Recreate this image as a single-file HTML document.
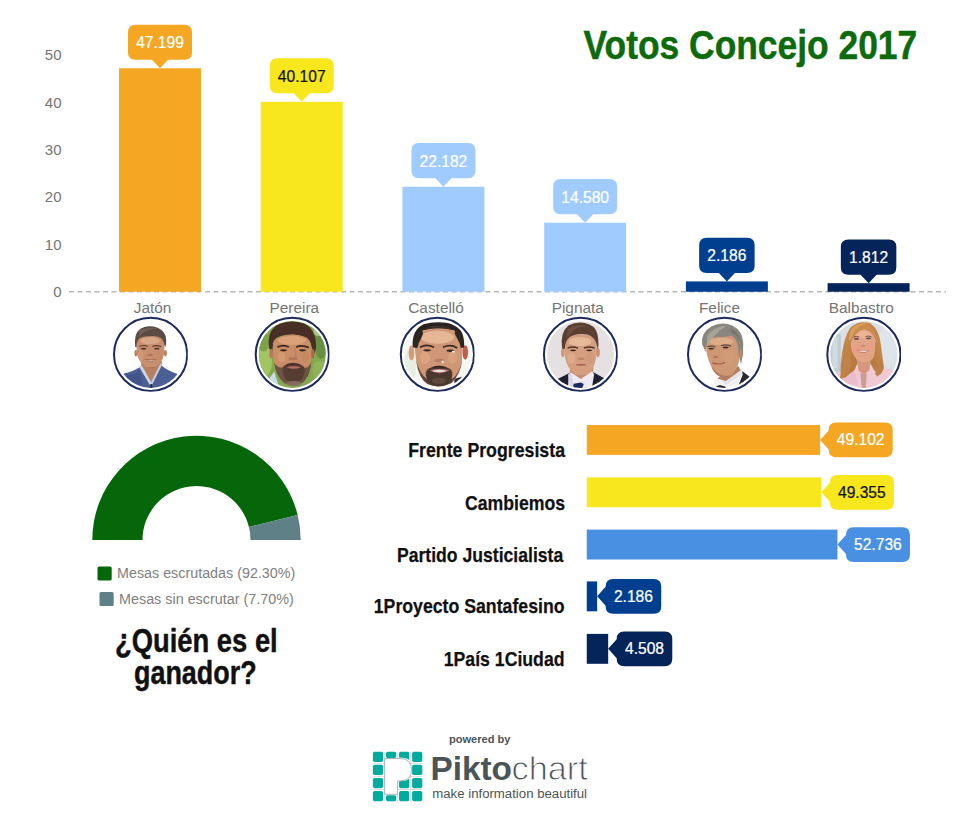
<!DOCTYPE html>
<html lang="es">
<head>
<meta charset="utf-8">
<title>Votos Concejo 2017</title>
<style>
html,body{margin:0;padding:0;background:#fff;}
body{width:960px;height:816px;overflow:hidden;font-family:"Liberation Sans",sans-serif;}
svg{display:block;}
text{font-family:"Liberation Sans",sans-serif;}
.ax{font-size:15px;fill:#747474;}
.lb{font-size:15.6px;text-anchor:middle;stroke-width:0.22px;}
.hd{font-weight:bold;fill:#111;stroke:#111;stroke-width:0.45px;}
</style>
</head>
<body>
<svg width="960" height="816" viewBox="0 0 960 816">
<rect width="960" height="816" fill="#fff"/>
<text x="583.6" y="58.7" font-size="41.5" font-weight="bold" fill="#0d6b0d" stroke="#0d6b0d" stroke-width="0.5" textLength="333.6" lengthAdjust="spacingAndGlyphs">Votos Concejo 2017</text>
<g class="ax" text-anchor="end">
<text x="61.5" y="60.2">50</text>
<text x="61.5" y="107.5">40</text>
<text x="61.5" y="154.9">30</text>
<text x="61.5" y="202.2">20</text>
<text x="61.5" y="249.6">10</text>
<text x="61.5" y="296.9">0</text>
</g>
<line x1="69" y1="291.75" x2="946" y2="291.75" stroke="#b8b8b8" stroke-width="1.4" stroke-dasharray="5,3.5"/>
<rect x="119.00" y="68.26" width="82" height="223.49" fill="#f5a623"/>
<path fill="#f5a623" d="M135.50,24.66 H184.50 Q192.00,24.66 192.00,32.16 V52.26 Q192.00,59.76 184.50,59.76 H168.00 L160.00,68.26 L152.00,59.76 H135.50 Q128.00,59.76 128.00,52.26 V32.16 Q128.00,24.66 135.50,24.66 Z"/>
<text class="lb" x="160.00" y="48.31" fill="#fff" stroke="#fff">47.199</text>
<text class="lb" x="152.60" y="312.5" fill="#747474" style="font-size:15.4px">Jatón</text>
<rect x="260.72" y="101.84" width="82" height="189.91" fill="#f8e71c"/>
<path fill="#f8e71c" d="M277.22,58.24 H326.22 Q333.72,58.24 333.72,65.74 V85.84 Q333.72,93.34 326.22,93.34 H309.72 L301.72,101.84 L293.72,93.34 H277.22 Q269.72,93.34 269.72,85.84 V65.74 Q269.72,58.24 277.22,58.24 Z"/>
<text class="lb" x="301.72" y="81.89" fill="#111" stroke="#111">40.107</text>
<text class="lb" x="294.32" y="312.5" fill="#747474" style="font-size:15.4px">Pereira</text>
<rect x="402.44" y="186.72" width="82" height="105.03" fill="#9fcbff"/>
<path fill="#9fcbff" d="M418.94,143.12 H467.94 Q475.44,143.12 475.44,150.62 V170.72 Q475.44,178.22 467.94,178.22 H451.44 L443.44,186.72 L435.44,178.22 H418.94 Q411.44,178.22 411.44,170.72 V150.62 Q411.44,143.12 418.94,143.12 Z"/>
<text class="lb" x="443.44" y="166.77" fill="#fff" stroke="#fff">22.182</text>
<text class="lb" x="436.04" y="312.5" fill="#747474" style="font-size:15.4px">Castelló</text>
<rect x="544.16" y="222.71" width="82" height="69.04" fill="#9fcbff"/>
<path fill="#9fcbff" d="M560.66,179.11 H609.66 Q617.16,179.11 617.16,186.61 V206.71 Q617.16,214.21 609.66,214.21 H593.16 L585.16,222.71 L577.16,214.21 H560.66 Q553.16,214.21 553.16,206.71 V186.61 Q553.16,179.11 560.66,179.11 Z"/>
<text class="lb" x="585.16" y="202.76" fill="#fff" stroke="#fff">14.580</text>
<text class="lb" x="577.76" y="312.5" fill="#747474" style="font-size:15.4px">Pignata</text>
<rect x="685.88" y="281.40" width="82" height="10.35" fill="#003f8f"/>
<path fill="#003f8f" d="M706.63,237.80 H747.13 Q754.63,237.80 754.63,245.30 V265.40 Q754.63,272.90 747.13,272.90 H734.88 L726.88,281.40 L718.88,272.90 H706.63 Q699.13,272.90 699.13,265.40 V245.30 Q699.13,237.80 706.63,237.80 Z"/>
<text class="lb" x="726.88" y="261.45" fill="#fff" stroke="#fff">2.186</text>
<text class="lb" x="719.48" y="312.5" fill="#747474" style="font-size:15.4px">Felice</text>
<rect x="827.60" y="283.17" width="82" height="8.58" fill="#05245a"/>
<path fill="#05245a" d="M848.35,239.57 H888.85 Q896.35,239.57 896.35,247.07 V267.17 Q896.35,274.67 888.85,274.67 H876.60 L868.60,283.17 L860.60,274.67 H848.35 Q840.85,274.67 840.85,267.17 V247.07 Q840.85,239.57 848.35,239.57 Z"/>
<text class="lb" x="868.60" y="263.22" fill="#fff" stroke="#fff">1.812</text>
<text class="lb" x="861.20" y="312.5" fill="#747474" style="font-size:15.4px">Balbastro</text>
<defs>
<filter id="bl" x="-20%" y="-20%" width="140%" height="140%"><feGaussianBlur stdDeviation="0.7"/></filter>
<filter id="bl2" x="-20%" y="-20%" width="140%" height="140%"><feGaussianBlur stdDeviation="2.2"/></filter>
<clipPath id="cp0"><circle cx="150.6" cy="354.4" r="33.5"/></clipPath>
<clipPath id="rc0"><rect x="110.6" y="314.4" width="77.2" height="77.3"/></clipPath>
<clipPath id="cp1"><circle cx="292.3" cy="354.4" r="33.5"/></clipPath>
<clipPath id="rc1"><rect x="252.3" y="314.4" width="77.2" height="77.3"/></clipPath>
<clipPath id="cp2"><circle cx="437.4" cy="354.4" r="33.5"/></clipPath>
<clipPath id="rc2"><rect x="397.4" y="314.4" width="77.2" height="77.3"/></clipPath>
<clipPath id="cp3"><circle cx="580.5" cy="354.4" r="33.5"/></clipPath>
<clipPath id="rc3"><rect x="540.5" y="314.4" width="77.2" height="77.3"/></clipPath>
<clipPath id="cp4"><circle cx="724.6" cy="354.4" r="33.5"/></clipPath>
<clipPath id="rc4"><rect x="684.6" y="314.4" width="77.2" height="77.3"/></clipPath>
<clipPath id="cp5"><circle cx="863.9" cy="354.4" r="33.5"/></clipPath>
<clipPath id="rc5"><rect x="823.9" y="314.4" width="77.2" height="77.3"/></clipPath>
</defs>
<circle cx="150.6" cy="354.4" r="36.6" fill="#fff" stroke="#1c2a5c" stroke-width="2" clip-path="url(#rc0)"/>
<g clip-path="url(#cp0)"><rect x="116.6" y="320.4" width="68" height="68" fill="#ffffff"/><g filter="url(#bl)"><g transform="translate(105,312) scale(0.104167)">

<path d="M175,592 Q290,565 345,520 L540,510 Q595,560 702,597 L690,650 Q600,725 440,732 Q280,725 185,650 Z" fill="#4b5f95"/>
<path d="M200,610 Q300,600 330,560 L360,700 L250,690 Z" fill="#43558a"/>
<path d="M350,470 L545,470 L545,520 L445,690 L345,525 Z" fill="#b57f61"/>
<path d="M330,530 L352,512 L452,688 L432,704 Z" fill="#ced6e8"/>
<path d="M548,505 L530,497 L436,686 L452,700 Z" fill="#c3cce0"/>
<path d="M436,690 L452,690 L456,732 L436,732 Z" fill="#23283a"/>
<ellipse cx="296" cy="395" rx="14" ry="30" fill="#b9805f"/>
<ellipse cx="580" cy="395" rx="14" ry="30" fill="#b9805f"/>
<path d="M300,300 Q300,235 350,218 L520,215 Q575,232 573,300 L566,405 Q555,470 500,520 Q440,558 385,522 Q322,470 308,405 Z" fill="#c88f6e"/>
<ellipse cx="432" cy="275" rx="95" ry="34" fill="#dcab8b" opacity=".85"/>
<ellipse cx="345" cy="420" rx="26" ry="48" fill="#d39c7c" opacity=".7"/>
<ellipse cx="525" cy="420" rx="26" ry="48" fill="#c58a69" opacity=".7"/>
<path d="M290,335 Q275,205 340,160 Q420,118 505,150 Q582,182 587,262 Q592,312 578,340 Q568,285 542,252 Q485,222 425,232 Q352,232 322,262 Q300,292 302,340 Z" fill="#5c4b43"/>
<path d="M330,180 Q420,135 500,160 Q440,160 380,190 Q340,215 320,250 Z" fill="#77655b" opacity=".8"/>
<path d="M330,332 Q370,312 410,332" stroke="#5a3c30" stroke-width="11" fill="none"/>
<path d="M455,332 Q495,312 540,334" stroke="#5a3c30" stroke-width="11" fill="none"/>
<ellipse cx="370" cy="352" rx="25" ry="8" fill="#4a322a"/>
<ellipse cx="498" cy="352" rx="25" ry="8" fill="#4a322a"/>
<ellipse cx="432" cy="412" rx="30" ry="11" fill="#a46c55" opacity=".75"/>
<path d="M380,452 Q440,498 502,452 Q440,466 380,452 Z" fill="#8c4c40"/>
<path d="M396,458 Q440,482 488,458 Q440,468 396,458 Z" fill="#eadcd2"/>
<path d="M385,522 Q440,558 500,520 Q440,540 385,522 Z" fill="#a9745a"/>
</g></g></g>
<circle cx="292.3" cy="354.4" r="36.6" fill="#fff" stroke="#1c2a5c" stroke-width="2" clip-path="url(#rc1)"/>
<g clip-path="url(#cp1)"><rect x="258.3" y="320.4" width="68" height="68" fill="#84a84d"/><g filter="url(#bl)"><g transform="translate(247,312) scale(0.104167)">

<ellipse cx="170" cy="470" rx="70" ry="150" fill="#a3c463"/>
<ellipse cx="160" cy="290" rx="60" ry="90" fill="#7da24a"/>
<ellipse cx="710" cy="300" rx="60" ry="150" fill="#668f40"/>
<ellipse cx="700" cy="560" rx="70" ry="90" fill="#8fb45a"/>
<ellipse cx="690" cy="180" rx="50" ry="50" fill="#a9c98a"/>
<path d="M205,650 L262,572 L300,690 L345,735 L230,720 Z" fill="#c9dbee"/>
<path d="M262,572 L300,690 L280,640 Z" fill="#8fa6c4"/>
<path d="M545,700 L625,668 L600,715 Z" fill="#8d8fa3"/>
<path d="M212,340 Q190,200 280,130 Q400,66 545,108 Q655,160 662,300 Q668,365 640,410 L612,300 Q562,222 440,215 Q320,215 270,262 Q242,300 242,410 Z" fill="#482f25"/>
<ellipse cx="232" cy="400" rx="18" ry="45" fill="#b57c5a"/>
<ellipse cx="632" cy="400" rx="16" ry="45" fill="#a56c4c"/>
<path d="M250,300 Q262,226 440,215 Q600,226 610,300 L616,425 Q610,560 542,652 Q450,724 358,662 Q270,580 250,440 Z" fill="#c98d67"/>
<ellipse cx="430" cy="272" rx="135" ry="42" fill="#dea67e" opacity=".85"/>
<ellipse cx="330" cy="430" rx="40" ry="50" fill="#d69c74" opacity=".8"/>
<ellipse cx="560" cy="430" rx="36" ry="50" fill="#c38862" opacity=".8"/>
<path d="M260,488 Q280,622 358,684 Q450,730 542,674 Q608,612 618,478 Q592,542 548,537 Q500,492 440,490 Q385,492 345,532 Q296,542 260,488 Z" fill="#6d5245"/>
<path d="M345,527 Q440,462 550,527 Q562,602 522,652 Q450,692 380,652 Q333,602 345,527 Z" fill="#523b31" opacity=".92"/>
<ellipse cx="450" cy="688" rx="75" ry="26" fill="#8d7466" opacity=".75"/>
<path d="M340,522 Q440,454 552,522 Q500,502 445,507 Q390,502 340,522 Z" fill="#45302a"/>
<path d="M378,530 Q445,512 520,530 Q448,560 378,530 Z" fill="#bb6b62"/>
<path d="M292,338 Q345,308 402,336" stroke="#3b251d" stroke-width="17" fill="none"/>
<path d="M472,336 Q532,310 592,342" stroke="#3b251d" stroke-width="17" fill="none"/>
<ellipse cx="350" cy="368" rx="32" ry="10" fill="#3a2921"/>
<ellipse cx="532" cy="368" rx="32" ry="10" fill="#3a2921"/>
<ellipse cx="442" cy="448" rx="44" ry="14" fill="#a66d52" opacity=".75"/>
<path d="M470,350 Q485,420 470,452 Q450,420 455,350 Z" fill="#b67c5b" opacity=".6"/>
</g></g></g>
<circle cx="437.4" cy="354.4" r="36.6" fill="#fff" stroke="#1c2a5c" stroke-width="2" clip-path="url(#rc2)"/>
<g clip-path="url(#cp2)"><rect x="403.4" y="320.4" width="68" height="68" fill="#f6f6f3"/><g filter="url(#bl)"><g transform="translate(389,312) scale(0.104167)">

<ellipse cx="200" cy="520" rx="60" ry="160" fill="#e6ede2"/>
<path d="M630,640 L700,622 L690,662 L625,690 Z" fill="#2b2b45"/>
<path d="M228,335 Q215,178 330,118 Q470,78 625,118 Q725,168 722,335 L692,335 Q682,232 642,192 Q560,150 470,160 Q370,150 310,202 Q270,242 262,335 Z" fill="#2a2320"/>
<ellipse cx="216" cy="392" rx="27" ry="72" fill="#d49b79"/>
<ellipse cx="732" cy="388" rx="27" ry="70" fill="#bf5f48"/>
<path d="M245,330 Q250,205 330,172 Q470,140 620,172 Q700,212 705,330 L700,482 Q680,602 600,682 Q480,742 370,692 Q280,622 262,482 Z" fill="#cf9774"/>
<ellipse cx="465" cy="242" rx="160" ry="62" fill="#e7ba98" opacity=".9"/>
<ellipse cx="345" cy="440" rx="50" ry="60" fill="#dca882" opacity=".75"/>
<ellipse cx="610" cy="440" rx="45" ry="60" fill="#dca882" opacity=".6"/>
<path d="M330,172 Q470,140 620,172 Q560,130 470,130 Q390,128 330,172 Z" fill="#3a2e28"/>
<path d="M232,340 Q222,228 305,160 Q345,190 308,255 Q280,300 272,345 Z" fill="#2d2521"/>
<path d="M720,340 Q726,228 648,160 Q612,190 655,255 Q684,300 690,345 Z" fill="#2d2521"/>
<path d="M262,470 Q288,642 370,692 Q480,742 600,682 Q682,600 700,470 Q672,600 604,645 L600,560 Q480,486 360,562 L366,645 Q298,602 262,470 Z" fill="#5a4439"/>
<path d="M352,575 Q480,480 608,575 Q612,650 560,690 Q480,725 400,690 Q350,650 352,575 Z" fill="#48362d" opacity=".9"/>
<ellipse cx="480" cy="660" rx="70" ry="28" fill="#6a5245" opacity=".7"/>
<path d="M352,562 Q480,468 608,562 Q540,528 480,530 Q420,528 352,562 Z" fill="#31241e"/>
<path d="M392,560 Q480,536 582,560 Q482,614 392,560 Z" fill="#c7808a"/>
<ellipse cx="482" cy="566" rx="62" ry="11" fill="#eadfd8"/>
<path d="M298,338 Q362,304 432,338" stroke="#3a2a22" stroke-width="17" fill="none"/>
<path d="M518,338 Q592,306 655,345" stroke="#3a2a22" stroke-width="17" fill="none"/>
<ellipse cx="366" cy="368" rx="36" ry="11" fill="#3c2c26"/>
<ellipse cx="588" cy="372" rx="36" ry="11" fill="#3c2c26"/>
<ellipse cx="482" cy="465" rx="48" ry="16" fill="#ad7560" opacity=".75"/>
<ellipse cx="618" cy="382" rx="14" ry="9" fill="#f5efe8"/>
<ellipse cx="515" cy="478" rx="12" ry="12" fill="#f3e6dc"/>
</g></g></g>
<circle cx="580.5" cy="354.4" r="36.6" fill="#fff" stroke="#1c2a5c" stroke-width="2" clip-path="url(#rc3)"/>
<g clip-path="url(#cp3)"><rect x="546.5" y="320.4" width="68" height="68" fill="#e5e1e3"/><g filter="url(#bl)"><g transform="translate(535,312) scale(0.104167)">

<path d="M212,645 L332,585 L560,578 L668,638 Q600,725 440,735 Q290,728 212,645 Z" fill="#1e2133"/>
<path d="M340,478 L562,478 L557,592 L440,652 L333,592 Z" fill="#c88e6f"/>
<path d="M322,602 L345,580 L440,642 L548,568 L568,598 L548,718 L440,735 L318,712 Z" fill="#efeaf2"/>
<path d="M358,692 L440,676 L468,692 L452,735 L378,735 Z" fill="#1d2c62"/>
<path d="M318,600 L345,580 L372,700 L335,715 Z" fill="#ddd6e2"/>
<ellipse cx="268" cy="388" rx="18" ry="46" fill="#d09878"/>
<ellipse cx="604" cy="388" rx="18" ry="46" fill="#c98f70"/>
<path d="M280,330 Q285,242 340,226 Q440,202 540,226 Q596,246 592,330 L586,442 Q570,542 500,602 Q440,632 385,602 Q310,542 290,442 Z" fill="#d59f7f"/>
<ellipse cx="432" cy="285" rx="110" ry="42" fill="#e8bb9b" opacity=".9"/>
<ellipse cx="350" cy="440" rx="36" ry="55" fill="#dfae8e" opacity=".7"/>
<ellipse cx="530" cy="440" rx="36" ry="55" fill="#cf9676" opacity=".7"/>
<path d="M260,350 Q238,200 320,130 Q420,78 522,120 Q602,152 607,262 Q614,322 602,356 L586,292 Q560,232 500,216 Q400,202 330,242 Q290,272 286,356 Z" fill="#5a3f30"/>
<path d="M320,160 Q420,100 520,140 Q440,130 380,170 Q330,205 300,260 Z" fill="#72513e" opacity=".8"/>
<path d="M313,347 Q360,324 412,347" stroke="#4a3226" stroke-width="14" fill="none"/>
<path d="M470,347 Q522,324 572,347" stroke="#4a3226" stroke-width="14" fill="none"/>
<ellipse cx="365" cy="368" rx="28" ry="9" fill="#3a2a22"/>
<ellipse cx="520" cy="368" rx="28" ry="9" fill="#3a2a22"/>
<ellipse cx="442" cy="448" rx="33" ry="12" fill="#b27e62" opacity=".75"/>
<ellipse cx="442" cy="506" rx="50" ry="9" fill="#ae665c"/>
<path d="M385,602 Q440,632 500,602 Q440,618 385,602 Z" fill="#b8846a"/>
</g></g></g>
<circle cx="724.6" cy="354.4" r="36.6" fill="#fff" stroke="#1c2a5c" stroke-width="2" clip-path="url(#rc4)"/>
<g clip-path="url(#cp4)"><rect x="690.6" y="320.4" width="68" height="68" fill="#ffffff"/><g filter="url(#bl)"><g transform="translate(680,312) scale(0.104167)">

<path d="M592,565 L672,625 L562,708 L545,692 Z" fill="#2b2b2d"/>
<path d="M330,640 L400,662 L592,545 L602,602 L562,702 L440,732 L328,722 Z" fill="#f2f2f2"/>
<path d="M400,662 L592,545 L585,600 L440,700 Z" fill="#e4e4e6"/>
<path d="M345,716 L382,700 L432,716 L442,735 L350,735 Z" fill="#2a2a2c"/>
<path d="M400,600 L562,520 L582,560 L440,662 L360,640 Z" fill="#b57d5e"/>
<path d="M248,330 Q246,200 380,200 Q560,195 570,300 Q582,350 574,422 Q570,522 500,602 Q440,652 390,622 Q330,600 300,522 Q250,422 250,330 Z" fill="#cf9874"/>
<ellipse cx="400" cy="285" rx="115" ry="36" fill="#e0b08c" opacity=".85"/>
<path d="M212,310 Q198,200 300,140 Q400,88 502,130 Q602,180 607,300 Q612,400 586,505 L562,400 Q562,275 500,228 Q440,242 380,238 Q300,242 268,272 Q248,310 248,385 Z" fill="#8a867e"/>
<path d="M260,230 Q330,140 450,130 Q380,170 330,230 Q290,280 262,330 Z" fill="#aeaaa2" opacity=".8"/>
<path d="M480,150 Q570,200 590,300 Q560,230 500,200 Z" fill="#6f6b65" opacity=".8"/>
<ellipse cx="470" cy="440" rx="50" ry="70" fill="#d39c7a" opacity=".7"/>
<ellipse cx="585" cy="400" rx="16" ry="42" fill="#c08565"/>
<path d="M262,335 Q300,318 340,335" stroke="#5a4a44" stroke-width="12" fill="none"/>
<path d="M392,322 Q440,305 490,328" stroke="#5a4a44" stroke-width="12" fill="none"/>
<ellipse cx="300" cy="352" rx="27" ry="9" fill="#3e302c"/>
<ellipse cx="438" cy="340" rx="30" ry="10" fill="#3e302c"/>
<ellipse cx="342" cy="432" rx="28" ry="11" fill="#a86f58" opacity=".75"/>
<path d="M310,488 Q370,512 432,484" stroke="#a0564e" stroke-width="11" fill="none"/>
<path d="M300,522 Q330,600 390,622 Q440,652 500,602 Q440,625 390,600 Q340,580 300,522 Z" fill="#b07a5e"/>
</g></g></g>
<circle cx="863.9" cy="354.4" r="36.6" fill="#fff" stroke="#1c2a5c" stroke-width="2" clip-path="url(#rc5)"/>
<g clip-path="url(#cp5)"><rect x="829.9" y="320.4" width="68" height="68" fill="#d9e0e6"/><g filter="url(#bl)"><g transform="translate(820,312) scale(0.104167)">

<rect x="95" y="210" width="105" height="370" fill="#bfccd4"/>
<rect x="120" y="240" width="50" height="300" fill="#d4dde2" opacity=".8"/>
<ellipse cx="650" cy="330" rx="90" ry="190" fill="#dde4ea"/>
<path d="M148,592 Q280,542 340,520 L420,602 L500,512 Q620,540 708,562 Q650,705 420,735 Q230,715 148,592 Z" fill="#f1c9d5"/>
<path d="M200,640 Q300,600 330,560 L370,700 L260,690 Z" fill="#eab9c8" opacity=".8"/>
<path d="M212,400 Q228,250 290,150 Q380,78 482,108 Q562,160 582,300 Q602,450 612,522 Q602,602 540,622 Q562,500 540,400 L300,400 Q290,520 250,625 Q200,640 190,640 Q232,500 212,400 Z" fill="#c58749"/>
<path d="M300,380 L540,380 Q600,480 585,600 L520,560 L470,470 L370,470 L330,560 L235,630 Q250,480 300,380 Z" fill="#b87a40"/>
<path d="M350,450 L492,450 L472,562 L420,602 L370,562 Z" fill="#d7977b"/>
<path d="M388,590 L450,590 L440,730 L400,730 Z" fill="#c9a090"/>
<path d="M294,282 Q305,168 412,148 Q506,160 538,282 Q548,388 505,450 Q430,512 355,458 Q294,396 294,282 Z" fill="#e2a486"/>
<ellipse cx="415" cy="215" rx="80" ry="35" fill="#eeb698" opacity=".85"/>
<ellipse cx="350" cy="340" rx="30" ry="36" fill="#ea9e88" opacity=".75"/>
<ellipse cx="482" cy="335" rx="30" ry="36" fill="#ea9e88" opacity=".75"/>
<path d="M288,310 Q298,130 420,108 Q522,120 562,310 Q522,205 432,162 Q340,182 288,310 Z" fill="#cb8d4f"/>
<path d="M300,160 Q380,90 480,110 Q400,110 340,170 Q300,230 280,320 Q270,240 300,160 Z" fill="#dba463" opacity=".8"/>
<path d="M212,400 Q190,520 198,642 Q262,622 300,522 Q290,450 302,380 Q292,300 300,260 Q240,300 212,400 Z" fill="#c18345"/>
<path d="M540,380 Q602,450 612,542 Q582,612 530,602 Q546,500 522,420 Q535,330 528,280 Q560,320 540,380 Z" fill="#bd7f43"/>
<path d="M322,240 Q350,228 378,240" stroke="#6a4a3a" stroke-width="9" fill="none"/>
<path d="M438,236 Q466,224 494,238" stroke="#6a4a3a" stroke-width="9" fill="none"/>
<ellipse cx="350" cy="258" rx="25" ry="9" fill="#5b4a52"/>
<ellipse cx="466" cy="253" rx="25" ry="9" fill="#5b4a52"/>
<ellipse cx="412" cy="325" rx="26" ry="10" fill="#c98068" opacity=".7"/>
<path d="M350,368 Q415,420 480,365 Q415,385 350,368 Z" fill="#b85c56"/>
<path d="M360,372 Q415,402 472,370 Q415,384 360,372 Z" fill="#f6efe8"/>
</g></g></g>
<path fill="#05670a" d="M92.30,540.00 A104.2,104.2 0 0 1 297.67,515.04 L248.93,527.06 A54.0,54.0 0 0 0 142.50,540.00 Z"/>
<path fill="#5f8086" d="M297.67,515.04 A104.2,104.2 0 0 1 300.70,540.00 L250.50,540.00 A54.0,54.0 0 0 0 248.93,527.06 Z"/>
<rect x="97.5" y="566.6" width="14.2" height="14" rx="1.5" fill="#05670a"/>
<text x="117" y="578.2" font-size="14" fill="#808080" textLength="178.3" lengthAdjust="spacingAndGlyphs">Mesas escrutadas (92.30%)</text>
<rect x="99.5" y="591.9" width="14.2" height="14" rx="1.5" fill="#5f8086"/>
<text x="119" y="603.5" font-size="14" fill="#808080" textLength="174.8" lengthAdjust="spacingAndGlyphs">Mesas sin escrutar (7.70%)</text>
<text class="hd" font-size="32.5"><tspan x="115.1" y="651.5" textLength="162.6" lengthAdjust="spacingAndGlyphs">¿Quién es el</tspan> <tspan x="134.0" y="683.8" textLength="122.6" lengthAdjust="spacingAndGlyphs">ganador?</tspan></text>
<rect x="586.75" y="425.0" width="233.43" height="29.9" fill="#f5a623"/>
<path fill="#f5a623" d="M836.18,422.60 H885.18 Q892.68,422.60 892.68,430.10 V449.80 Q892.68,457.30 885.18,457.30 H836.18 Q828.68,457.30 828.68,449.80 V449.45 L820.18,439.95 L828.68,430.45 V430.10 Q828.68,422.60 836.18,422.60 Z"/>
<text class="lb" x="860.68" y="445.45" fill="#fff" stroke="#fff">49.102</text>
<text class="hd" x="408.25" y="457.0" font-size="20.8" style="stroke-width:0.25px" textLength="156.75" lengthAdjust="spacingAndGlyphs">Frente Progresista</text>
<rect x="586.75" y="477.4" width="234.63" height="29.9" fill="#f8e71c"/>
<path fill="#f8e71c" d="M837.38,475.00 H886.38 Q893.88,475.00 893.88,482.50 V502.20 Q893.88,509.70 886.38,509.70 H837.38 Q829.88,509.70 829.88,502.20 V501.85 L821.38,492.35 L829.88,482.85 V482.50 Q829.88,475.00 837.38,475.00 Z"/>
<text class="lb" x="861.88" y="497.85" fill="#111" stroke="#111">49.355</text>
<text class="hd" x="465.0" y="510.0" font-size="20.8" style="stroke-width:0.25px" textLength="100.00" lengthAdjust="spacingAndGlyphs">Cambiemos</text>
<rect x="586.75" y="529.6" width="250.71" height="29.9" fill="#4a90e2"/>
<path fill="#4a90e2" d="M853.46,527.20 H902.46 Q909.96,527.20 909.96,534.70 V554.40 Q909.96,561.90 902.46,561.90 H853.46 Q845.96,561.90 845.96,554.40 V554.05 L837.46,544.55 L845.96,535.05 V534.70 Q845.96,527.20 853.46,527.20 Z"/>
<text class="lb" x="877.96" y="550.05" fill="#fff" stroke="#fff">52.736</text>
<text class="hd" x="397.0" y="562.0" font-size="20.8" style="stroke-width:0.25px" textLength="166.20" lengthAdjust="spacingAndGlyphs">Partido Justicialista</text>
<rect x="586.75" y="581.4" width="10.39" height="29.9" fill="#003f8f"/>
<path fill="#003f8f" d="M613.14,579.00 H653.74 Q661.24,579.00 661.24,586.50 V606.20 Q661.24,613.70 653.74,613.70 H613.14 Q605.64,613.70 605.64,606.20 V605.85 L597.14,596.35 L605.64,586.85 V586.50 Q605.64,579.00 613.14,579.00 Z"/>
<text class="lb" x="633.44" y="601.85" fill="#fff" stroke="#fff">2.186</text>
<text class="hd" x="373.75" y="613.2" font-size="20.8" style="stroke-width:0.25px" textLength="190.75" lengthAdjust="spacingAndGlyphs">1Proyecto Santafesino</text>
<rect x="586.75" y="633.9" width="21.43" height="29.9" fill="#05245a"/>
<path fill="#05245a" d="M624.18,631.50 H664.78 Q672.28,631.50 672.28,639.00 V658.70 Q672.28,666.20 664.78,666.20 H624.18 Q616.68,666.20 616.68,658.70 V658.35 L608.18,648.85 L616.68,639.35 V639.00 Q616.68,631.50 624.18,631.50 Z"/>
<text class="lb" x="644.48" y="654.35" fill="#fff" stroke="#fff">4.508</text>
<text class="hd" x="443.75" y="666.2" font-size="20.8" style="stroke-width:0.25px" textLength="120.75" lengthAdjust="spacingAndGlyphs">1País 1Ciudad</text>
<text x="448.9" y="743.2" font-size="11.5" font-weight="bold" fill="#4b5457" textLength="61.6" lengthAdjust="spacingAndGlyphs">powered by</text>
<g fill="#02ab9d">
<rect x="372.90" y="751.80" width="10.2" height="10.2" rx="1.8"/><rect x="385.97" y="751.80" width="10.2" height="6.1" rx="1.6"/><path d="M400.64,751.80 H407.64 Q409.24,751.80 409.24,753.40 V760.00 Q407.04,757.40 399.04,757.40 V753.40 Q399.04,751.80 400.64,751.80 Z"/><rect x="412.11" y="751.80" width="10.2" height="10.2" rx="1.8"/>
<rect x="372.90" y="764.87" width="10.2" height="10.2" rx="1.8"/><rect x="412.11" y="764.87" width="10.2" height="10.2" rx="1.8"/>
<rect x="372.90" y="777.94" width="10.2" height="10.2" rx="1.8"/><path d="M399.04,781.14 Q407.04,781.14 409.24,778.54 V786.54 Q409.24,788.14 407.64,788.14 H400.64 Q399.04,788.14 399.04,786.54 Z"/><rect x="412.11" y="777.94" width="10.2" height="10.2" rx="1.8"/>
<rect x="372.90" y="791.01" width="10.2" height="10.2" rx="1.8"/><rect x="385.97" y="795.21" width="10.2" height="6" rx="1.6"/><rect x="399.04" y="791.01" width="10.2" height="10.2" rx="1.8"/><rect x="412.11" y="791.01" width="10.2" height="10.2" rx="1.8"/>
</g>
<g stroke="#d0d5d7" stroke-width="0.8"><path d="M384.4,751.8V801.6M397.5,751.8V801.6M410.5,751.8V801.6M372.9,763.3H422.3M372.9,776.4H422.3M372.9,789.5H422.3"/></g>
<path d="M384.7,758.5 H400 Q411.5,758.5 411.5,769.7 Q411.5,780.9 400,780.9 H397.6 V794.3 H384.7 Z" fill="#fff" stroke="#a4aeb2" stroke-width="0.9"/>
<text y="780.4" font-size="34" fill="#4b5457"><tspan x="430.4" font-weight="bold" textLength="81.6" lengthAdjust="spacingAndGlyphs">Pikto</tspan><tspan x="511.6" stroke="#fff" stroke-width="0.9" paint-order="fill stroke" textLength="76.2" lengthAdjust="spacingAndGlyphs">chart</tspan></text>
<text x="432.3" y="797.5" font-size="12.5" fill="#4b5457" textLength="154.7" lengthAdjust="spacingAndGlyphs">make information beautiful</text>
</svg>
</body>
</html>
